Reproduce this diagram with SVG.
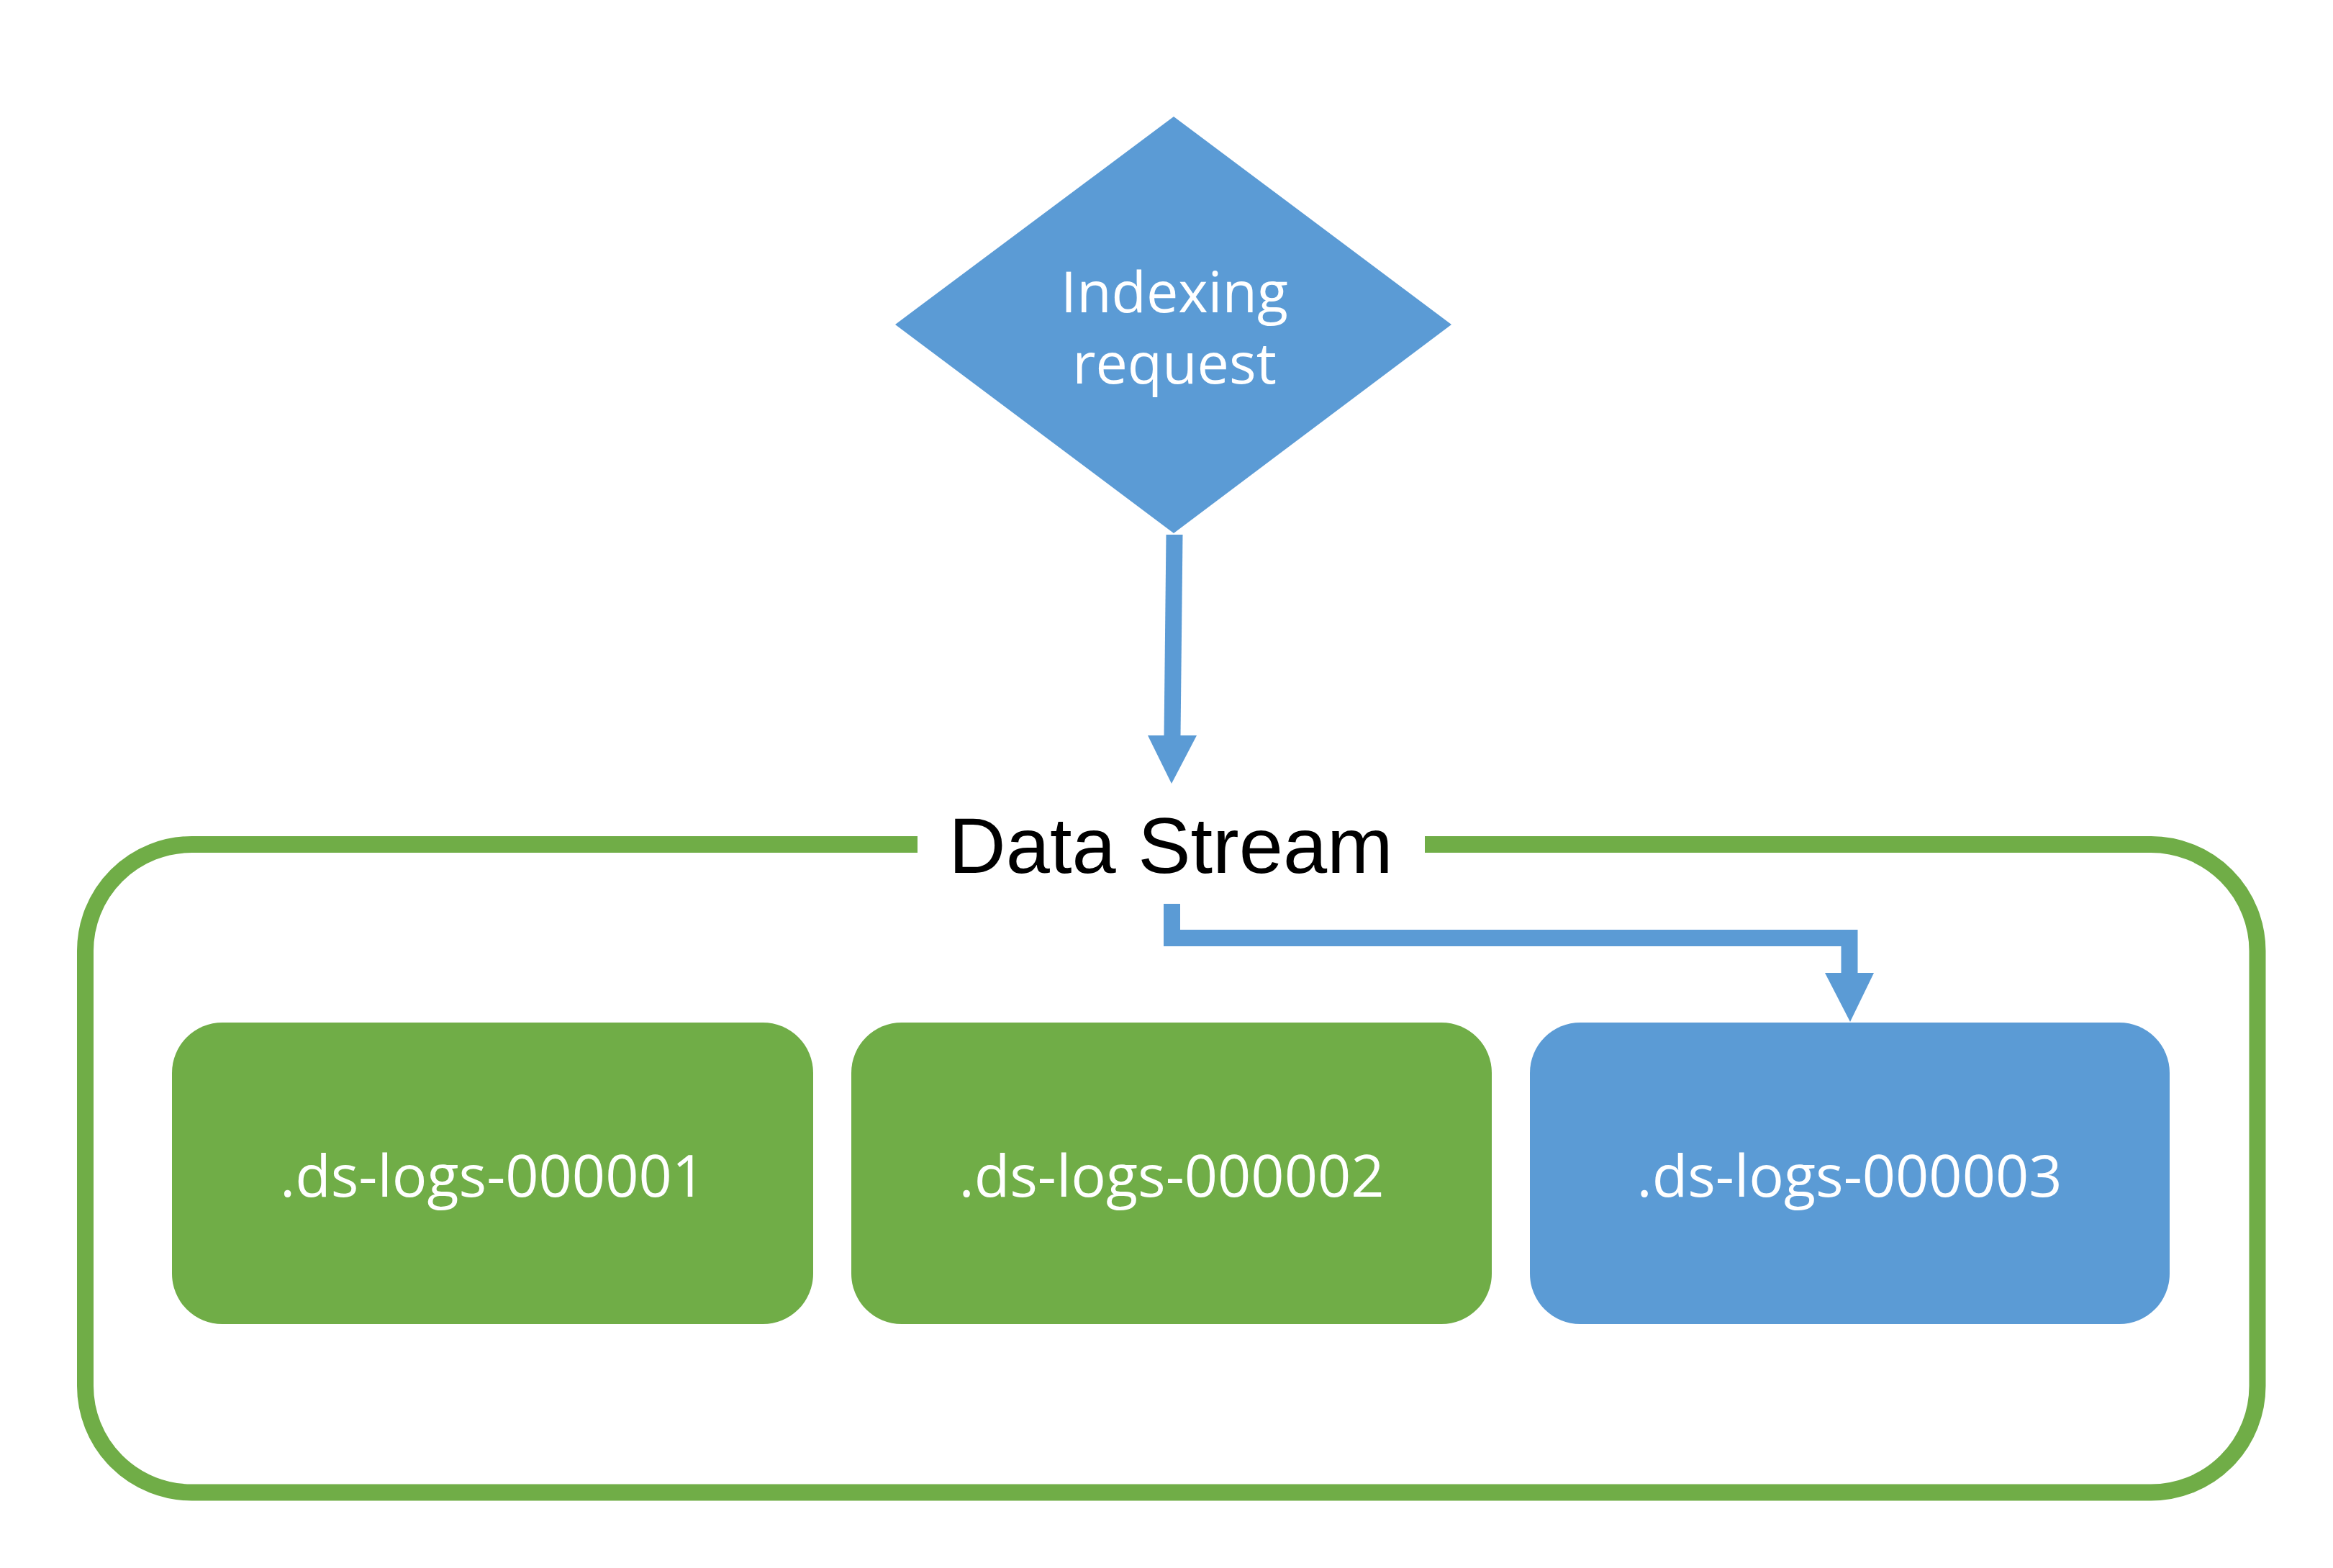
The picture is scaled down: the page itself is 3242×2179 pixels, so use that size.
<svg xmlns="http://www.w3.org/2000/svg" width="3242" height="2179" viewBox="0 0 3242 2179">
<style>
.lbl{font-family:"Open Sans","Noto Sans","Liberation Sans",sans-serif;font-weight:400;fill:#ffffff;text-anchor:middle}
.title{font-family:"Liberation Sans",Arial,sans-serif;font-size:110px;fill:#000000;text-anchor:middle}
.blue{fill:#5B9BD5}
.green{fill:#70AD47}
.conn{fill:none;stroke:#5B9BD5;stroke-width:23}
</style>
<rect width="3242" height="2179" fill="#ffffff"/>
<g id="container">
<path d="M1275 1173.5 H266.5 A148 148 0 0 0 118.5 1321.5 V1926 A148 148 0 0 0 266.5 2074 H2989 A148 148 0 0 0 3137 1926 V1321.5 A148 148 0 0 0 2989 1173.5 H1980" fill="none" stroke="#70AD47" stroke-width="23"/>
<text class="title" x="1627" y="1213">Data Stream</text>
</g>
<g id="indexing-request">
<polygon class="blue" points="1631,162 2017,451 1631,741 1244,451"/>
<text class="lbl" font-size="79" x="1632" y="434">Indexing</text>
<text class="lbl" font-size="79" x="1632" y="533">request</text>
</g>
<g id="ds-logs-000001">
<rect class="green" x="239" y="1421" width="891" height="419" rx="70" ry="70"/>
<text class="lbl" font-size="81" x="684.5" y="1663">.ds-logs-000001</text>
</g>
<g id="ds-logs-000002">
<rect class="green" x="1183" y="1421" width="890" height="419" rx="70" ry="70"/>
<text class="lbl" font-size="81" x="1628" y="1663">.ds-logs-000002</text>
</g>
<g id="ds-logs-000003">
<rect class="blue" x="2126" y="1421" width="889" height="419" rx="70" ry="70"/>
<text class="lbl" font-size="81" x="2570" y="1663">.ds-logs-000003</text>
</g>
<g id="connectors">
<path class="conn" d="M1632 743 L1629 1023"/>
<polygon class="blue" points="1595,1022 1663,1022 1628,1089"/>
<path class="conn" d="M1628.5 1256 V1303.5 H2570 V1353"/>
<polygon class="blue" points="2536,1352 2604,1352 2571,1420"/>
</g>
</svg>
